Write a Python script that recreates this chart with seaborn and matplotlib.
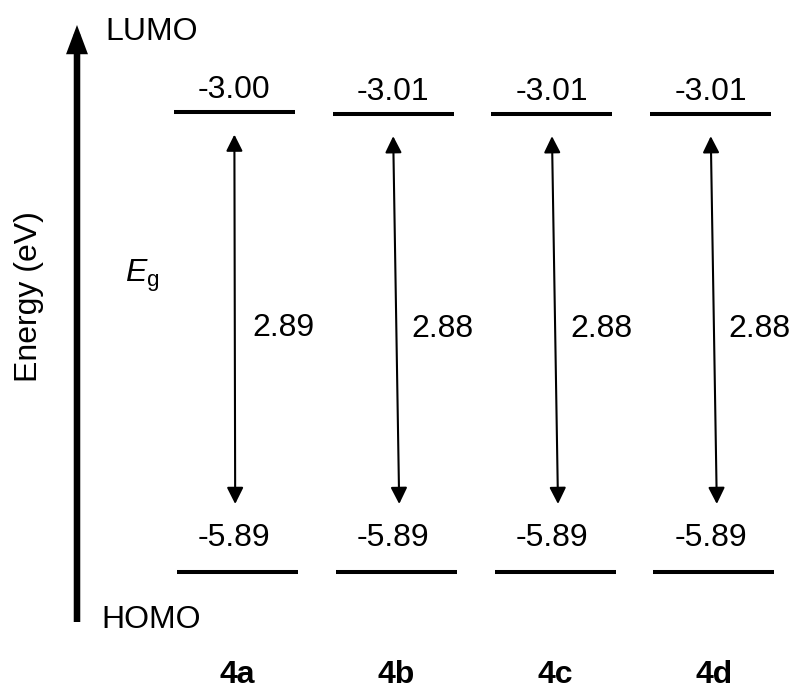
import pandas as pd
import seaborn as sns
import matplotlib.pyplot as plt
from matplotlib.transforms import blended_transform_factory

# Frontier orbital energies (eV) and optical gaps
compounds = ["4a", "4b", "4c", "4d"]
lumo = [-3.00, -3.01, -3.01, -3.01]
homo = [-5.89, -5.89, -5.89, -5.89]
gap = [2.89, 2.88, 2.88, 2.88]

sns.set_theme(style="white")
plt.rcParams["font.family"] = ["Liberation Sans", "DejaVu Sans"]
plt.rcParams["text.color"] = "black"
plt.rcParams["mathtext.fontset"] = "custom"
plt.rcParams["mathtext.rm"] = "Liberation Sans"
plt.rcParams["mathtext.it"] = "Liberation Sans:italic"
plt.rcParams["mathtext.bf"] = "Liberation Sans:bold"

FS = 23
fig = plt.figure(figsize=(7.97, 6.91), dpi=100)
ax = fig.add_axes([0, 0, 1, 1])

# Level bars as short horizontal segments, one per compound and orbital
HALF = 0.381
rows = []
for i, (c, lu, ho) in enumerate(zip(compounds, lumo, homo)):
    for lvl, e, off in (("LUMO", lu, -0.01), ("HOMO", ho, 0.01)):
        for side in (-1, 1):
            rows.append(dict(compound=c, level=lvl, seg=f"{c}-{lvl}",
                             x=i + off + side * HALF, energy=e))
levels = pd.DataFrame(rows)
sns.lineplot(data=levels, x="x", y="energy", units="seg", estimator=None,
             color="black", lw=2.9, solid_capstyle="butt", sort=False,
             legend=False, ax=ax)

ax.set_xlim(-1.486, 3.533)
ax.set_ylim(-6.6424, -2.2917)
ax.axis("off")

# Gap arrows and value labels
dx_bottom = [0.005, 0.038, 0.038, 0.038]
for i, (lu, ho, g) in enumerate(zip(lumo, homo, gap)):
    xt = i - 0.01
    xb = xt + dx_bottom[i]
    yt = lu - 0.139
    yb = ho + 0.425
    ax.annotate("", xy=(xt, yt), xytext=(xb, yb),
                arrowprops=dict(arrowstyle="<|-|>,head_length=1.0,head_width=0.5",
                                lw=1.5, color="black", shrinkA=0, shrinkB=0,
                                mutation_scale=10))
    ax.text(xt, lu + 0.091, f"{lu:.2f}", ha="center", va="baseline", fontsize=FS)
    ax.text(xt, ho + 0.161, f"{ho:.2f}", ha="center", va="baseline", fontsize=FS)
    ax.text(xt + 0.113, (yt + yb) / 2 - 0.104, f"{g:.2f}",
            ha="left", va="baseline", fontsize=FS)

# Compound names under each column
trans = blended_transform_factory(ax.transData, ax.transAxes)
for i, c in enumerate(compounds):
    ax.text(i + 0.01, 0.0116, c, transform=trans, ha="center", va="baseline",
            fontsize=FS, fontweight="bold")

# Energy axis arrow
W, H = 797, 691
ax.annotate("", xy=(77, H - 25), xytext=(77, H - 622),
            xycoords="figure pixels", textcoords="figure pixels",
            arrowprops=dict(arrowstyle="-|>,head_length=1.2,head_width=0.45",
                            lw=4.7, color="black", shrinkA=0, shrinkB=0,
                            mutation_scale=10, capstyle="butt",
                            joinstyle="miter"))
fig.text(105 / W, 1 - 40 / H, "LUMO", ha="left", va="baseline", fontsize=FS)
fig.text(101 / W, 1 - 628 / H, "HOMO", ha="left", va="baseline", fontsize=FS)
fig.text(29 / W, 1 - 297 / H, "Energy (eV)", rotation=90, ha="center",
         va="center", fontsize=FS)
fig.text(125 / W, 1 - 282 / H, r"$E_\mathrm{g}$", ha="left", va="baseline",
         fontsize=FS)

fig.savefig("out.png", dpi=100, facecolor="white")
